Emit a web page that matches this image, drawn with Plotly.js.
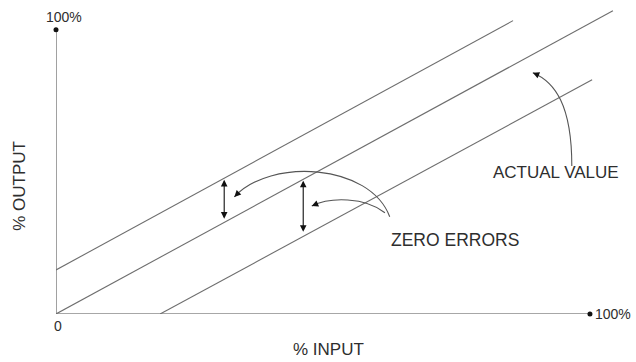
<!DOCTYPE html>
<html>
<head>
<meta charset="utf-8">
<script src="https://cdn.plot.ly/plotly-3.0.1.min.js"></script>
<style>html,body{margin:0;padding:0;background:#fff;}#chart{width:636px;height:362px;}</style>
</head>
<body>
<div id="chart"></div>
<script>
// ---- data (percent of span) ----
const upperX = [0, 85.6];      // line offset by a positive zero error
const upperY = [15.5, 103.2];
const idealX = [0, 104.3];     // actual value line
const idealY = [0, 106.7];
const lowerX = [19.5, 100.4];  // line offset by a negative zero error
const lowerY = [0, 82.4];
const axisX = [0, 100];
const axisY = [0, 100];

// zero-error measurement arrows
const errArrowX = [31.5, 46.3];
const errArrowTop = [47.2, 46.9];
const errArrowBottom = [33.0, 28.4];

// curved callouts: [x0,y0, c1x,c1y, c2x,c2y, x3,y3]
const zeroCurveBig = [62.5, 34.2, 58.8, 53.0, 40.1, 55.0, 33.4, 41.2];
const zeroCurveSmall = [61.6, 35.6, 57.9, 41.2, 51.3, 41.2, 47.9, 38.0];
const actualCurve = [96.6, 52.1, 96.6, 73.6, 93.4, 81.7, 89.3, 84.9];

const lineColor = '#6e6e6e';
const axisColor = '#8a8a8a';
const textColor = '#2e2e2e';
const fontFam = '"Liberation Sans", Arial, sans-serif';

function curvePath(c) {
  return `M ${c[0]},${c[1]} C ${c[2]},${c[3]} ${c[4]},${c[5]} ${c[6]},${c[7]}`;
}

const traces = [
  {x: axisX, y: [0, 0], mode: 'lines', line: {color: axisColor, width: 1.6}, hoverinfo: 'skip', showlegend: false},
  {x: [0, 0], y: axisY, mode: 'lines', line: {color: axisColor, width: 1.6}, hoverinfo: 'skip', showlegend: false},
  {x: [axisX[1], 0], y: [0, axisY[1]], mode: 'markers', marker: {color: '#111', size: 5}, cliponaxis: false, hoverinfo: 'skip', showlegend: false},
  {x: upperX, y: upperY, mode: 'lines', line: {color: lineColor, width: 1.1}, name: 'Upper', showlegend: false},
  {x: idealX, y: idealY, mode: 'lines', line: {color: lineColor, width: 1.1}, name: 'Actual value', showlegend: false},
  {x: lowerX, y: lowerY, mode: 'lines', line: {color: lineColor, width: 1.1}, name: 'Lower', showlegend: false}
];

const txt = (size) => ({family: fontFam, size: size, color: textColor});

const annotations = [
  {x: 0, y: axisY[1], xref: 'x', yref: 'y', text: '100%', showarrow: false, xanchor: 'center', yanchor: 'bottom', xshift: 8, yshift: 3, font: txt(14)},
  {x: axisX[1], y: 0, xref: 'x', yref: 'y', text: '100%', showarrow: false, xanchor: 'left', yanchor: 'middle', xshift: 3, font: txt(14)},
  {x: 0, y: 0, xref: 'x', yref: 'y', text: '0', showarrow: false, xanchor: 'center', yanchor: 'top', xshift: 2, yshift: -2, font: txt(14)},
  {x: 0.482, y: -0.117, xref: 'paper', yref: 'paper', text: '% INPUT', showarrow: false, xanchor: 'center', yanchor: 'middle', font: txt(17)},
  {x: -0.064, y: 0.417, xref: 'paper', yref: 'paper', text: '% OUTPUT', textangle: -90, showarrow: false, xanchor: 'center', yanchor: 'middle', font: txt(17)},
  {x: 74.7, y: 26.0, xref: 'x', yref: 'y', text: 'ZERO ERRORS', showarrow: false, xanchor: 'center', yanchor: 'middle', font: txt(17.5)},
  {x: 93.6, y: 49.9, xref: 'x', yref: 'y', text: 'ACTUAL VALUE', showarrow: false, xanchor: 'center', yanchor: 'middle', font: txt(17)}
];

// double-headed vertical arrows
for (let i = 0; i < errArrowX.length; i++) {
  annotations.push({x: errArrowX[i], y: errArrowTop[i], ax: errArrowX[i], ay: errArrowBottom[i],
    xref: 'x', yref: 'y', axref: 'x', ayref: 'y', text: '', showarrow: true,
    arrowhead: 2, startarrowhead: 2, arrowside: 'end+start', arrowsize: 1.2, startarrowsize: 1.2, arrowwidth: 1.1, arrowcolor: '#111'});
}
// arrowheads at curve ends
[[zeroCurveBig, 5, -5], [zeroCurveSmall, 7, -3], [actualCurve, 7, 3]].forEach(([c, ax, ay]) => {
  annotations.push({x: c[6], y: c[7], xref: 'x', yref: 'y', ax: ax, ay: ay, text: '', showarrow: true,
    arrowhead: 2, arrowsize: 1.3, arrowwidth: 1, arrowcolor: '#111'});
});

const shapes = [zeroCurveBig, zeroCurveSmall, actualCurve].map(c => ({
  type: 'path', xref: 'x', yref: 'y', path: curvePath(c), line: {color: '#555', width: 1.1}
}));

const layout = {
  width: 636, height: 362,
  margin: {l: 56, r: 14, t: 7, b: 48},
  paper_bgcolor: '#fff', plot_bgcolor: '#fff',
  xaxis: {range: [0, 106], showgrid: false, zeroline: false, showticklabels: false, ticks: '', showline: false, fixedrange: true},
  yaxis: {range: [0, 108], showgrid: false, zeroline: false, showticklabels: false, ticks: '', showline: false, fixedrange: true},
  annotations: annotations,
  shapes: shapes,
  showlegend: false,
  font: {family: fontFam, color: textColor}
};

Plotly.newPlot('chart', traces, layout, {displayModeBar: false, staticPlot: true});
</script>
</body>
</html>
